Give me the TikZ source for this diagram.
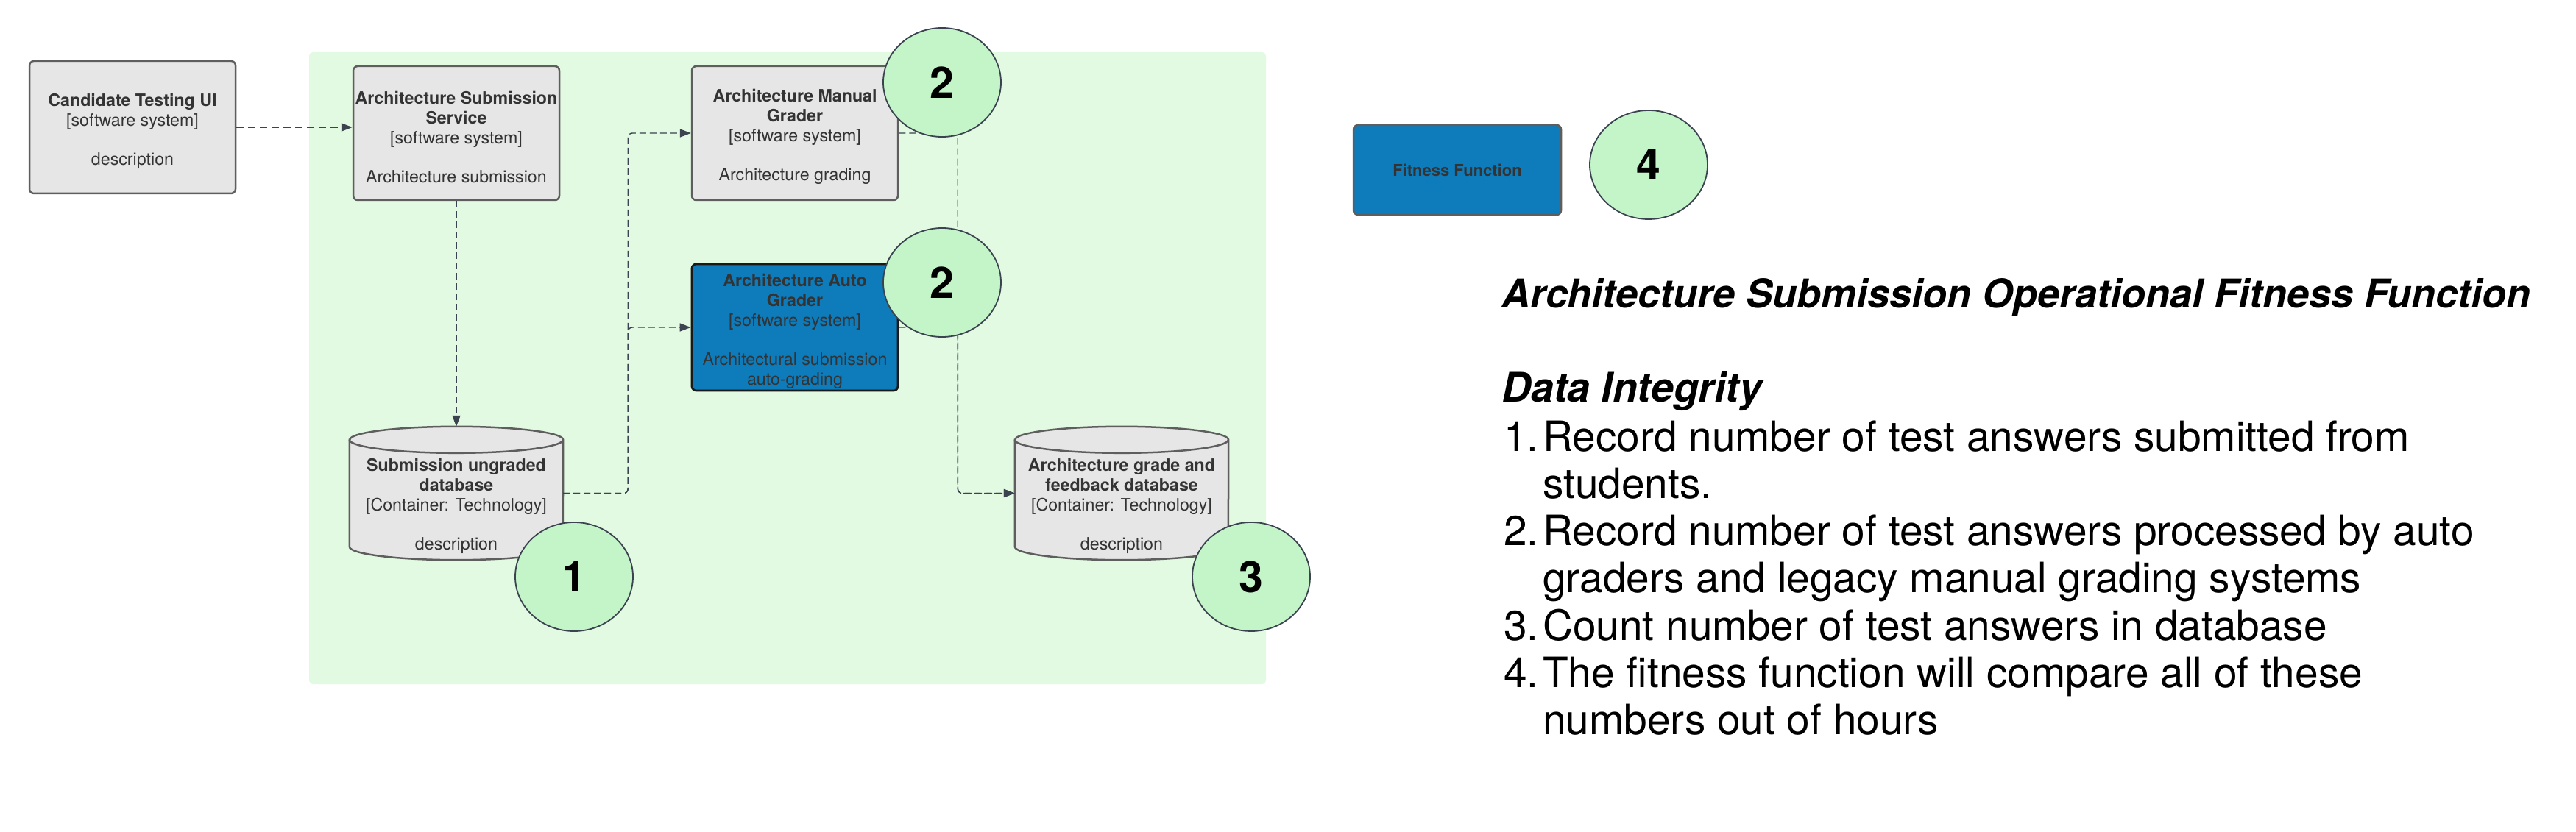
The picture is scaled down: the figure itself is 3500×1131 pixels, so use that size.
\documentclass[tikz,border=0pt]{standalone}
\usepackage{fontspec}
\setmainfont{TeX Gyre Heros}
\usetikzlibrary{arrows.meta,shapes.geometric,calc}
\definecolor{regiongreen}{HTML}{E2F9E2}
\definecolor{boxgray}{HTML}{E6E6E6}
\definecolor{boxborder}{HTML}{5E5E5E}
\definecolor{autoblue}{HTML}{0E7BBA}
\definecolor{txtdark}{HTML}{333333}
\definecolor{slate}{HTML}{3B4250}
\definecolor{badgegreen}{HTML}{C3F5C8}
\newcommand\bxf{\fontsize{23.2}{27}\selectfont}
\newcommand\tstrut{\rule{0pt}{28pt}}
\begin{document}
\begin{tikzpicture}[x=1pt,y=-1pt,
  sysbox/.style={draw=boxborder,line width=2.5pt,fill=boxgray,rounded corners=6pt,
    minimum width=280pt,inner sep=0pt,align=center,text=txtdark,font=\bxf},
  autobox/.style={sysbox,draw=black!90,line width=2.8pt,fill=autoblue},
  dbshape/.style={fill=boxgray,draw=boxborder,line width=2.5pt},
  dbframe/.style={minimum width=290pt,minimum height=181pt,inner sep=0pt},
  dbtext/.style={align=center,text=txtdark,font=\bxf,inner sep=0pt},
  badge/.style={ellipse,draw=slate,line width=1.8pt,fill=badgegreen,minimum width=160pt,
    minimum height=148pt,inner sep=0pt,font=\fontsize{59}{60}\selectfont\bfseries},
  conn/.style={draw=slate,line width=1.4pt,dash pattern=on 9pt off 5pt,rounded corners=6pt,
    -{Triangle[length=15pt,width=11pt]}},
  mainconn/.style={conn,line width=1.8pt,dash pattern=on 10pt off 6pt},
  headtxt/.style={anchor=base west,inner sep=0pt,font=\fontsize{54}{60}\selectfont\bfseries\itshape},
  listtxt/.style={anchor=base west,inner sep=0pt,font=\fontsize{56.8}{64}\selectfont}
]
\useasboundingbox (0,0) rectangle (3500,1131);

% boundary region
\fill[regiongreen,rounded corners=5pt] (420,71) rectangle (1720,930);

% boxes
\node[sysbox,minimum height=180pt] (cand) at (180,173)
  {\tstrut\textbf{Candidate Testing UI}\\{}[software system]\\[26pt]description};
\node[sysbox,minimum height=182pt] (ass) at (620,181)
  {\tstrut\textbf{Architecture Submission}\\\textbf{Service}\\{}[software system]\\[26pt]Architecture submission};
\node[sysbox,minimum height=182pt] (manual) at (1080,181)
  {\tstrut\textbf{Architecture Manual}\\\textbf{Grader}\\{}[software system]\\[26pt]Architecture grading};
\node[autobox,minimum height=172pt] (auto) at (1080,445)
  {\tstrut\textbf{Architecture Auto}\\\textbf{Grader}\\{}[software system]\\[26pt]Architectural submission\\auto-grading};

% databases
\node[dbframe] (db1) at (620,670.5) {};
\node[dbframe] (db2) at (1524,670.5) {};
\foreach \d in {db1,db2}{
  \path[dbshape] ([yshift=-18pt]\d.north west) -- ([yshift=18pt]\d.south west)
    arc[start angle=180,end angle=360,x radius=145pt,y radius=18pt]
    -- ([yshift=-18pt]\d.north east)
    arc[start angle=0,end angle=180,x radius=145pt,y radius=18pt] -- cycle;
  \draw[boxborder,line width=2.5pt] ([yshift=-18pt]\d.north west)
    arc[start angle=180,end angle=360,x radius=145pt,y radius=18pt];
}
\node[dbtext] (db1t) at ([yshift=-17pt]db1.center)
  {\textbf{Submission ungraded}\\\textbf{database}\\{}[Container: Technology]\\[26pt]description};
\node[dbtext] (db2t) at ([yshift=-17pt]db2.center)
  {\textbf{Architecture grade and}\\\textbf{feedback database}\\{}[Container: Technology]\\[26pt]description};

% connectors
\draw[mainconn] (cand.east) -- (cand.east -| ass.west);
\draw[conn] (ass.south) -- (db1.north);
\draw[conn] (db1.east) -- ++(88,0) |- (manual.west);
\draw[conn] (db1.east) -- ++(88,0) |- (auto.west);
\draw[conn] (manual.east) -- ++(80,0) |- (db2.west);
\draw[conn] (auto.east) -- ++(80,0) |- (db2.west);

% legend box
\node[sysbox,fill=autoblue,minimum width=282pt,minimum height=122pt,
  font=\fontsize{22}{26}\selectfont\bfseries] (fit) at (1980,231) {Fitness Function};

% badges
\node[badge] (b2a) at (1280,112) {2};
\node[badge] (b2b) at (1280,384) {2};
\node[badge] (b1) at (780,784) {1};
\node[badge] (b3) at (1700,784) {3};
\node[badge] (b4) at (2240,224) {4};

% right-hand text
\node[headtxt] (title) at (2040,418) {Architecture Submission Operational Fitness Function};
\node[headtxt,font=\fontsize{55.5}{60}\selectfont\bfseries\itshape] (di) at (2040,546) {Data Integrity};
\node[listtxt] (n1) at (2043,613) {1.};
\node[listtxt] (t1) at (2096,613) {Record number of test answers submitted from};
\node[listtxt] (t1b) at (2096,677.3) {students.};
\node[listtxt] (n2) at (2043,741.6) {2.};
\node[listtxt] (t2) at (2096,741.6) {Record number of test answers processed by auto};
\node[listtxt] (t2b) at (2096,805.9) {graders and legacy manual grading systems};
\node[listtxt] (n3) at (2043,870.2) {3.};
\node[listtxt] (t3) at (2096,870.2) {Count number of test answers in database};
\node[listtxt] (n4) at (2043,934.5) {4.};
\node[listtxt] (t4) at (2096,934.5) {The fitness function will compare all of these};
\node[listtxt] (t4b) at (2096,998.8) {numbers out of hours};
\end{tikzpicture}
\end{document}
